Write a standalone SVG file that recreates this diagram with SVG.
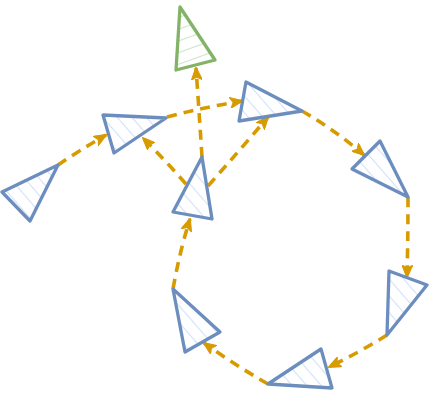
<svg xmlns="http://www.w3.org/2000/svg" width="429" height="406" viewBox="0 0 429 406">
<defs>
<style>
.b{fill:url(#hb);stroke:#6c8ebf;stroke-width:3.3;stroke-linejoin:round}
.g{fill:url(#hg);stroke:#82b366;stroke-width:3.3;stroke-linejoin:round}
.e{fill:none;stroke:#d79b00;stroke-width:3.6;stroke-dasharray:10 7;marker-end:url(#ar)}
</style>
<pattern id="hb" patternUnits="userSpaceOnUse" width="11" height="11" patternTransform="rotate(-41)">
<line x1="0" y1="0" x2="0" y2="11" stroke="#d0e1fa" stroke-width="2.2"/>
</pattern>
<pattern id="hg" patternUnits="userSpaceOnUse" width="11" height="11" patternTransform="rotate(70)">
<line x1="0" y1="0" x2="0" y2="11" stroke="#cde3cb" stroke-width="2.2"/>
</pattern>
<marker id="ar" viewBox="0 0 13 11" refX="12" refY="5.5" markerWidth="13" markerHeight="11" markerUnits="userSpaceOnUse" orient="auto">
<path d="M0,0 L13,5.5 L0,11 L3,5.5 Z" fill="#d79b00" stroke="#d79b00" stroke-width="1"/>
</marker>
</defs>
<g id="connectors">
<path class="e" d="M58,165 Q80,150 106,135"/>
<path class="e" d="M167,117 Q205,107 242,101"/>
<path class="e" d="M186,184 Q165,160 143,138"/>
<path class="e" d="M202,157 Q199,110 196,68"/>
<path class="e" d="M208,186 Q240,150 268,117"/>
<path class="e" d="M302,111 Q335,130 364,155"/>
<path class="e" d="M408,197 Q408,240 407,277"/>
<path class="e" d="M387,335 Q360,352 329,367"/>
<path class="e" d="M268,384 Q235,365 204,343"/>
<path class="e" d="M173,289 Q180,250 190,219"/>
</g>
<g id="n1"><polygon class="b" points="2,192 58,165 30,221"/></g>
<g id="n2"><polygon class="b" points="103,115 166,118 114,153"/></g>
<g id="n3"><polygon class="g" points="180,7 215,60 176,70"/></g>
<g id="n4"><polygon class="b" points="202,157 212,219 173,212"/></g>
<g id="n5"><polygon class="b" points="246,82 302,111 239,121"/></g>
<g id="n6"><polygon class="b" points="380,141 408,197 352,169"/></g>
<g id="n7"><polygon class="b" points="389,271 427,285 387,335"/></g>
<g id="n8"><polygon class="b" points="321,349 332,388 268,384"/></g>
<g id="n9"><polygon class="b" points="173,289 220,332 185,352"/></g>
</svg>
